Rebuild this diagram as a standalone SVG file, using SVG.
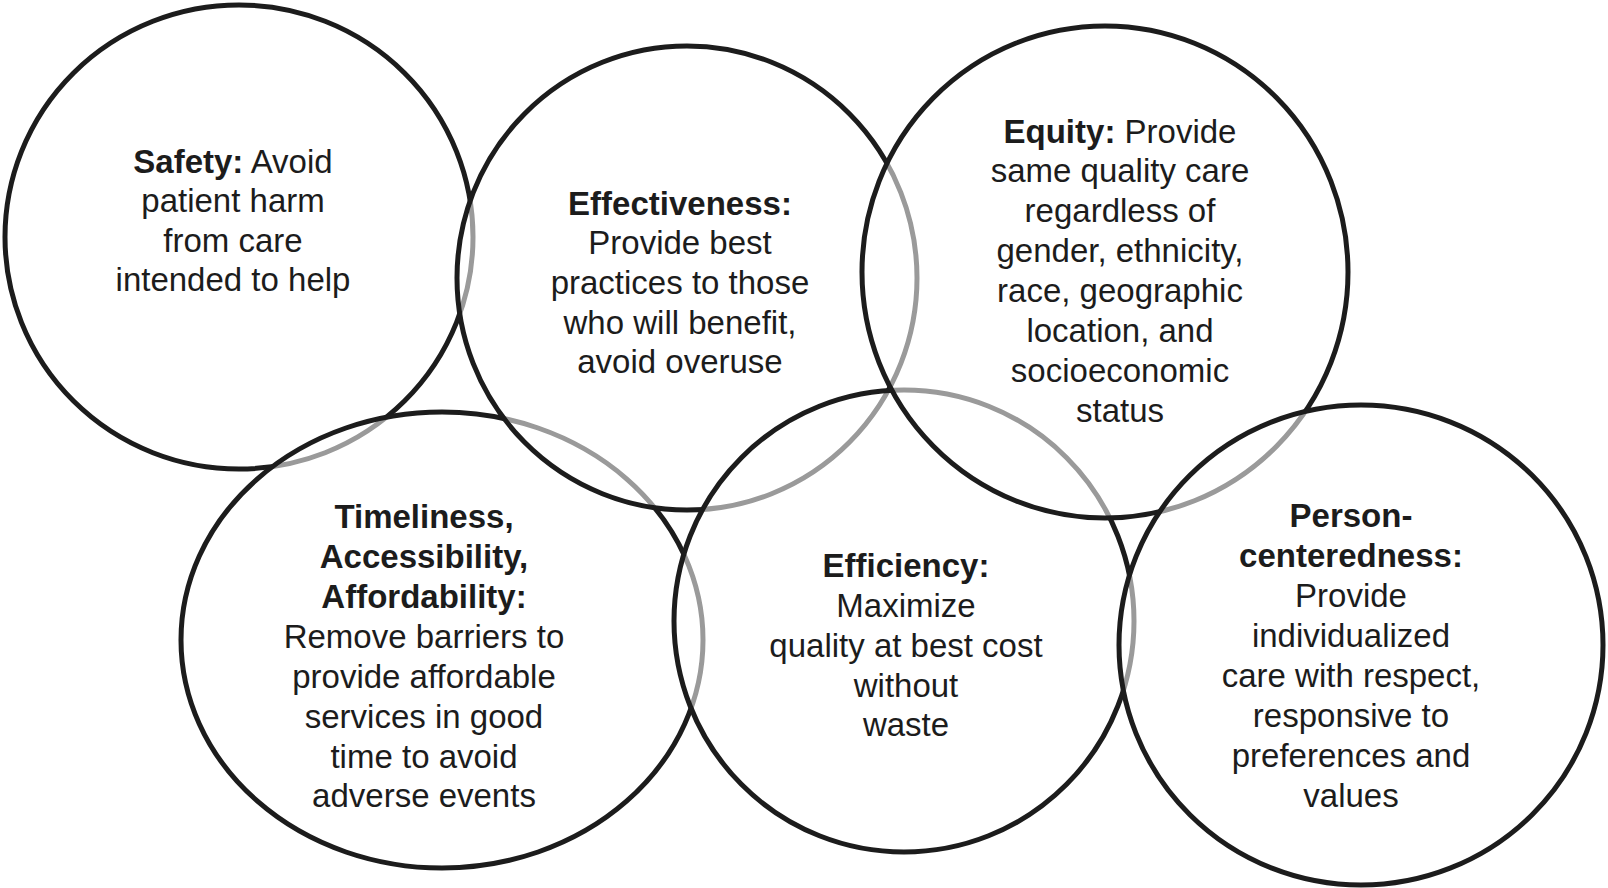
<svg xmlns="http://www.w3.org/2000/svg" width="1608" height="888" viewBox="0 0 1608 888">
<style>
.ring{fill:none;stroke-width:5}
.k{stroke:#1c1c1c}
.g{stroke:#9a9a9a}
text{font-family:"Liberation Sans",Arial,Helvetica,sans-serif;font-size:33px;fill:#1c1c1c;text-anchor:middle}
.b{font-weight:bold}
</style>
<defs>
<ellipse id="e-safety" cx="239" cy="237" rx="234" ry="232"/>
<ellipse id="e-effect" cx="687" cy="278" rx="230" ry="232"/>
<ellipse id="e-equity" cx="1105" cy="272" rx="243" ry="246"/>
<ellipse id="e-timely" cx="442" cy="640" rx="261" ry="228"/>
<ellipse id="e-effic" cx="904" cy="621" rx="230" ry="231"/>
<ellipse id="e-person" cx="1361" cy="645" rx="242" ry="240"/>

<clipPath id="cp-safety"><ellipse cx="442" cy="640" rx="261" ry="228"/><ellipse cx="687" cy="278" rx="230" ry="232"/></clipPath>
<clipPath id="cp-timely"><ellipse cx="687" cy="278" rx="230" ry="232"/><ellipse cx="904" cy="621" rx="230" ry="231"/></clipPath>
<clipPath id="cp-effect"><ellipse cx="904" cy="621" rx="230" ry="231"/><ellipse cx="1105" cy="272" rx="243" ry="246"/></clipPath>
<clipPath id="cp-effic"><ellipse cx="1105" cy="272" rx="243" ry="246"/><ellipse cx="1361" cy="645" rx="242" ry="240"/></clipPath>
<clipPath id="cp-equity"><ellipse cx="1361" cy="645" rx="242" ry="240"/></clipPath>

<mask id="m-safety" maskUnits="userSpaceOnUse" x="0" y="0" width="1608" height="888"><rect width="1608" height="888" fill="#fff"/><ellipse cx="442" cy="640" rx="261" ry="228" fill="#000"/><ellipse cx="687" cy="278" rx="230" ry="232" fill="#000"/></mask>
<mask id="m-timely" maskUnits="userSpaceOnUse" x="0" y="0" width="1608" height="888"><rect width="1608" height="888" fill="#fff"/><ellipse cx="687" cy="278" rx="230" ry="232" fill="#000"/><ellipse cx="904" cy="621" rx="230" ry="231" fill="#000"/></mask>
<mask id="m-effect" maskUnits="userSpaceOnUse" x="0" y="0" width="1608" height="888"><rect width="1608" height="888" fill="#fff"/><ellipse cx="904" cy="621" rx="230" ry="231" fill="#000"/><ellipse cx="1105" cy="272" rx="243" ry="246" fill="#000"/></mask>
<mask id="m-effic" maskUnits="userSpaceOnUse" x="0" y="0" width="1608" height="888"><rect width="1608" height="888" fill="#fff"/><ellipse cx="1105" cy="272" rx="243" ry="246" fill="#000"/><ellipse cx="1361" cy="645" rx="242" ry="240" fill="#000"/></mask>
<mask id="m-equity" maskUnits="userSpaceOnUse" x="0" y="0" width="1608" height="888"><rect width="1608" height="888" fill="#fff"/><ellipse cx="1361" cy="645" rx="242" ry="240" fill="#000"/></mask>
</defs>
<rect width="1608" height="888" fill="#fff"/>

<g id="connectors"></g>

<g id="node-safety">
<use href="#e-safety" class="ring g" clip-path="url(#cp-safety)"/>
<use href="#e-safety" class="ring k" mask="url(#m-safety)"/>
<text x="233" y="173"><tspan class="b">Safety:</tspan> Avoid</text>
<text x="233" y="212">patient harm</text>
<text x="233" y="252">from care</text>
<text x="233" y="291">intended to help</text>
</g>

<g id="node-timeliness">
<use href="#e-timely" class="ring g" clip-path="url(#cp-timely)"/>
<use href="#e-timely" class="ring k" mask="url(#m-timely)"/>
<text x="424" y="528" class="b">Timeliness,</text>
<text x="424" y="568" class="b">Accessibility,</text>
<text x="424" y="608" class="b">Affordability:</text>
<text x="424" y="648">Remove barriers to</text>
<text x="424" y="688">provide affordable</text>
<text x="424" y="728">services in good</text>
<text x="424" y="768">time to avoid</text>
<text x="424" y="807">adverse events</text>
</g>

<g id="node-effectiveness">
<use href="#e-effect" class="ring g" clip-path="url(#cp-effect)"/>
<use href="#e-effect" class="ring k" mask="url(#m-effect)"/>
<text x="680" y="215" class="b">Effectiveness:</text>
<text x="680" y="254">Provide best</text>
<text x="680" y="294">practices to those</text>
<text x="680" y="334">who will benefit,</text>
<text x="680" y="373">avoid overuse</text>
</g>

<g id="node-efficiency">
<use href="#e-effic" class="ring g" clip-path="url(#cp-effic)"/>
<use href="#e-effic" class="ring k" mask="url(#m-effic)"/>
<text x="906" y="577" class="b">Efficiency:</text>
<text x="906" y="617">Maximize</text>
<text x="906" y="657">quality at best cost</text>
<text x="906" y="697">without</text>
<text x="906" y="736">waste</text>
</g>

<g id="node-equity">
<use href="#e-equity" class="ring g" clip-path="url(#cp-equity)"/>
<use href="#e-equity" class="ring k" mask="url(#m-equity)"/>
<text x="1120" y="143"><tspan class="b">Equity:</tspan> Provide</text>
<text x="1120" y="182">same quality care</text>
<text x="1120" y="222">regardless of</text>
<text x="1120" y="262">gender, ethnicity,</text>
<text x="1120" y="302">race, geographic</text>
<text x="1120" y="342">location, and</text>
<text x="1120" y="382">socioeconomic</text>
<text x="1120" y="422">status</text>
</g>

<g id="node-person">
<use href="#e-person" class="ring k"/>
<text x="1351" y="527" class="b">Person-</text>
<text x="1351" y="567" class="b">centeredness:</text>
<text x="1351" y="607">Provide</text>
<text x="1351" y="647">individualized</text>
<text x="1351" y="687">care with respect,</text>
<text x="1351" y="727">responsive to</text>
<text x="1351" y="767">preferences and</text>
<text x="1351" y="807">values</text>
</g>
</svg>
